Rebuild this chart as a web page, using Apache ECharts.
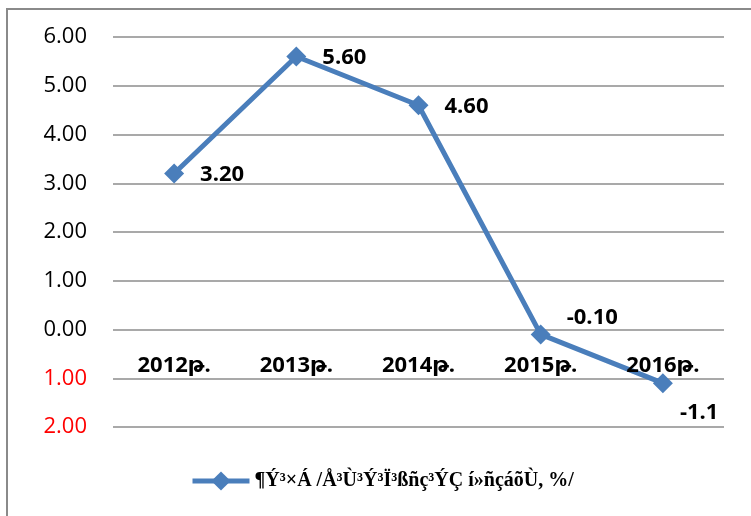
<!DOCTYPE html>
<html>
<head>
<meta charset="utf-8">
<script src="https://cdn.jsdelivr.net/npm/echarts@6/dist/echarts.min.js"></script>
<style>
  body { margin: 0; background: #fff; }
  #wrap { position: relative; width: 751px; height: 516px; overflow: hidden; }
  #frame { position: absolute; left: 6px; top: 8px; width: 800px; height: 600px; border: 2px solid #8a8a8a; }
  #chart { position: absolute; left: 0; top: 0; width: 751px; height: 516px; }
</style>
</head>
<body>
<div id="wrap">
  <div id="frame"></div>
  <div id="chart"></div>
</div>
<script>
// տարիներ
var years = ['2012թ.', '2013թ.', '2014թ.', '2015թ.', '2016թ.'];
var values = [3.2, 5.6, 4.6, -0.1, -1.1];
var valueLabels = ['3.20', '5.60', '4.60', '-0.10', '-1.1'];
var seriesName = '¶Ý³×Á /Å³Ù³Ý³Ï³ßñç³ÝÇ í»ñçáõÙ, %/';

// label placement per point
var labelOffsets = [[0, 1], [0, 1], [0, 1], [0, -17], [-9, 30]];

var myChart = echarts.init(document.getElementById('chart'));

var gridLine = { color: '#8c8c8c', width: 1.5 };

myChart.setOption({
    animation: false,
    grid: {
        left: 113,
        right: 27,
        top: 37,
        bottom: 89,
        containLabel: false
    },
    legend: {
        data: [seriesName],
        left: 190,
        top: 471,
        padding: 0,
        itemWidth: 57,
        itemHeight: 24,
        itemGap: 2,
        lineStyle: { width: 5 },
        textStyle: {
            fontFamily: 'Liberation Serif',
            fontWeight: 'bold',
            fontSize: 20,
            color: '#000'
        }
    },
    xAxis: {
        type: 'category',
        data: years,
        z: 5,
        axisLine: { show: false },
        axisTick: { show: false },
        axisLabel: {
            // labels sit just under the zero line
            margin: -72,
            fontFamily: 'Open Sans, DejaVu Sans',
            fontWeight: 'bold',
            fontSize: 22,
            color: '#000'
        }
    },
    yAxis: {
        type: 'value',
        min: -2,
        max: 6,
        interval: 1,
        axisLine: { show: false },
        axisTick: { show: false },
        splitLine: { lineStyle: gridLine },
        axisLabel: {
            margin: 26,
            fontFamily: 'Open Sans',
            fontSize: 22,
            formatter: function (v) {
                return Math.abs(v).toFixed(2);
            },
            color: function (v) {
                return Number(v) < 0 ? '#ff0000' : '#000';
            }
        }
    },
    series: [{
        name: seriesName,
        type: 'line',
        symbol: 'diamond',
        symbolSize: 20,
        lineStyle: { color: '#4a7ebb', width: 5 },
        itemStyle: { color: '#4a7ebb' },
        data: values.map(function (v, i) {
            return {
                value: v,
                label: { offset: labelOffsets[i] }
            };
        }),
        label: {
            show: true,
            position: 'right',
            distance: 16,
            fontFamily: 'Open Sans',
            fontWeight: 'bold',
            fontSize: 22,
            color: '#000',
            formatter: function (p) {
                return valueLabels[p.dataIndex];
            }
        }
    }]
});
</script>
</body>
</html>
